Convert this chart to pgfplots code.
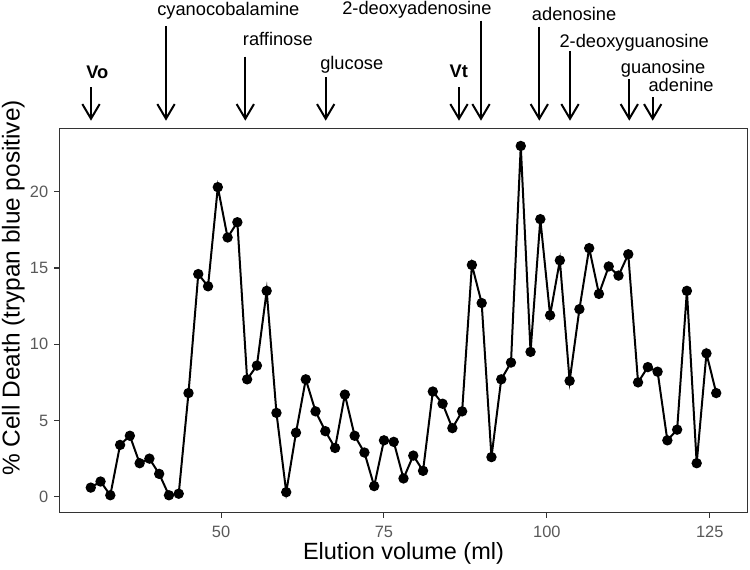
\documentclass[border=0pt]{standalone}
\usepackage{fontspec}
\setmainfont{Liberation Sans}
\usepackage{pgfplots}
\pgfplotsset{compat=1.18}
\usetikzlibrary{arrows.meta}
\definecolor{tickgray}{HTML}{595959}
\definecolor{framegray}{HTML}{333333}
\begin{document}
\begin{tikzpicture}
\useasboundingbox (0,0) rectangle (562.5pt,426.75pt);
\begin{axis}[
  scale only axis,
  at={(44.625pt,42.225pt)}, anchor=south west,
  width=516pt, height=288.15pt,
  xmin=25.2, xmax=130.8, ymin=-1.045, ymax=24.145,
  xtick={50,75,100,125}, ytick={0,5,10,15,20},
  tick pos=left, tick align=outside,
  major tick length=3.75pt,
  every tick/.style={framegray, line width=0.8pt},
  axis line style={framegray, line width=0.8pt},
  /pgf/number format/assume math mode=true,
  tick label style={font=\fontsize{12.3}{14}\selectfont, text=tickgray},
  yticklabel style={xshift=-1.2pt},
  xticklabel style={yshift=-3pt},
  xlabel={Elution volume (ml)},
  ylabel={\% Cell Death (trypan blue positive)},
  label style={font=\fontsize{17.6}{20}\selectfont},
  xlabel style={at={(axis description cs:0.5,-0.123)}, anchor=base},
  ylabel style={font=\fontsize{18.3}{21}\selectfont, at={(axis description cs:-0.0672,0.585)}, anchor=center},
  clip=false,
]
\addplot[black, line width=1.5pt, mark=*, mark size=3.1pt, mark options={solid, fill=black}] coordinates {
(30,0.6) (31.5,1.0) (33,0.1) (34.5,3.4) (36,4.0) (37.5,2.2) (39,2.5) (40.5,1.5)
(42,0.1) (43.5,0.2) (45,6.8) (46.5,14.6) (48,13.8) (49.5,20.3) (51,17.0) (52.5,18.0)
(54,7.7) (55.5,8.6) (57,13.5) (58.5,5.5) (60,0.3) (61.5,4.2) (63,7.7) (64.5,5.6)
(66,4.3) (67.5,3.2) (69,6.7) (70.5,4.0) (72,2.9) (73.5,0.7) (75,3.7) (76.5,3.6)
(78,1.2) (79.5,2.7) (81,1.7) (82.5,6.9) (84,6.1) (85.5,4.5) (87,5.6) (88.5,15.2)
(90,12.7) (91.5,2.6) (93,7.7) (94.5,8.8) (96,23.0) (97.5,9.5) (99,18.2) (100.5,11.9)
(102,15.5) (103.5,7.6) (105,12.3) (106.5,16.3) (108,13.3) (109.5,15.1) (111,14.5) (112.5,15.9)
(114,7.5) (115.5,8.5) (117,8.2) (118.5,3.7) (120,4.4) (121.5,13.5) (123,2.2) (124.5,9.4)
(126,6.8)
};
\end{axis}
\begin{scope}[shift={(0pt,426.75pt)}, x=0.75pt, y=-0.75pt]
\tikzset{arr/.style={-{Straight Barb[length=11pt,width=13pt,line width=1.5pt]}, line width=1.5pt, black}}
\draw[arr] (91,87.3) -- (91,120.7);
\draw[arr] (166,26) -- (166,120.7);
\draw[arr] (245.3,56.7) -- (245.3,120.7);
\draw[arr] (325.7,77.3) -- (325.7,120.7);
\draw[arr] (459,87.3) -- (459,120.7);
\draw[arr] (481,20.7) -- (481,120.7);
\draw[arr] (539.3,26.7) -- (539.3,120.7);
\draw[arr] (570,51) -- (570,120.7);
\draw[arr] (629.3,79) -- (629.3,120.7);
\draw[arr] (652.7,97.3) -- (652.7,120.7);
\tikzset{lab/.style={anchor=base west, inner sep=0pt, font=\fontsize{13.7}{16}\selectfont}}
\node[lab, font=\fontsize{13.7}{16}\selectfont\bfseries] at (86,78.3) {Vo};
\node[lab] at (157,15.5) {cyanocobalamine};
\node[lab] at (242.7,46) {raffinose};
\node[lab] at (320,70) {glucose};
\node[lab, font=\fontsize{13.7}{16}\selectfont\bfseries] at (449.3,77.3) {Vt};
\node[lab] at (342,14.5) {2-deoxyadenosine};
\node[lab] at (531.7,20.5) {adenosine};
\node[lab] at (559.3,47.7) {2-deoxyguanosine};
\node[lab] at (620.7,74) {guanosine};
\node[lab] at (648.3,91.7) {adenine};
\end{scope}
\end{tikzpicture}
\end{document}
